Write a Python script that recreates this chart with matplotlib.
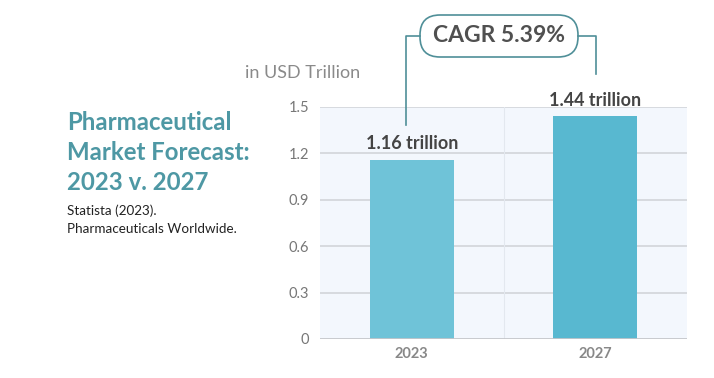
import matplotlib.pyplot as plt
from matplotlib.patches import FancyBboxPatch

plt.rcParams['font.family'] = ['Lato', 'DejaVu Sans']

years = ['2023', '2027']
values = [1.16, 1.44]
labels = ['1.16 trillion', '1.44 trillion']
colors = ['#6fc3d8', '#58b8d0']
yticks = [0, 0.3, 0.6, 0.9, 1.2, 1.5]
ytick_labels = ['0', '0.3', '0.6', '0.9', '1.2', '1.5']

W, H = 714, 378
fig = plt.figure(figsize=(W / 100, H / 100), dpi=100)
ax = fig.add_axes([320 / W, 1 - 339 / H, 367 / W, 232 / H])
ax.set_facecolor('#f3f7fd')

x = range(len(years))
ax.bar(x, values, width=0.46, color=colors, zorder=3)
ax.set_xlim(-0.5, 1.5)
ax.set_ylim(0, 1.5)
ax.set_yticks(yticks)
ax.set_yticklabels(ytick_labels)
ax.set_xticks(list(x))
ax.set_xticklabels(years, fontweight='bold')
ax.tick_params(axis='y', length=0, labelsize=10.5, labelcolor='#777777', pad=8)
ax.tick_params(axis='x', length=0, labelsize=10.5, labelcolor='#888888', pad=6)
for t in yticks[1:]:
    ax.axhline(t, color='#d2d5da', lw=1.2, zorder=1)
ax.axhline(0, color='#c4c6ca', lw=2, zorder=4)
ax.axvline(0.5, color='#e3e8ef', lw=0.8, zorder=1)
for s in ax.spines.values():
    s.set_visible(False)

for i, (v, lab) in enumerate(zip(values, labels)):
    ax.text(i, v + 0.05, lab, ha='center', va='bottom', fontsize=13,
            fontweight='bold', color='#444444')

# overlay in figure pixels for the CAGR bracket
ov = fig.add_axes([0, 0, 1, 1], zorder=5)
ov.set_xlim(0, W)
ov.set_ylim(H, 0)
ov.axis('off')
ov.patch.set_alpha(0)

line_c = '#4f8f98'
ov.plot([406, 406, 420], [125, 36, 36], color=line_c, lw=1.2)
ov.plot([578, 596, 596], [36, 36, 74], color=line_c, lw=1.2)
ov.add_patch(FancyBboxPatch((420, 15), 158, 42,
                            boxstyle='round,pad=0,rounding_size=20',
                            fc='white', ec=line_c, lw=1.2))
ov.text(499, 36, 'CAGR 5.39%', ha='center', va='center', fontsize=16.5,
        fontweight='bold', color='#505050')

ov.text(245, 73, 'in USD Trillion', ha='left', va='center', fontsize=13,
        color='#8a8a8a')

title_c = '#4e98a4'
for i, line in enumerate(['Pharmaceutical', 'Market Forecast:', '2023 v. 2027']):
    ov.text(67, 123 + 30 * i, line, ha='left', va='center', fontsize=17.3,
            fontweight='bold', color=title_c)
ov.text(67, 211, 'Statista (2023).', ha='left', va='center', fontsize=9.7,
        color='#222222')
ov.text(67, 229, 'Pharmaceuticals Worldwide.', ha='left', va='center',
        fontsize=9.7, color='#222222')

fig.savefig('out.png', dpi=100)
